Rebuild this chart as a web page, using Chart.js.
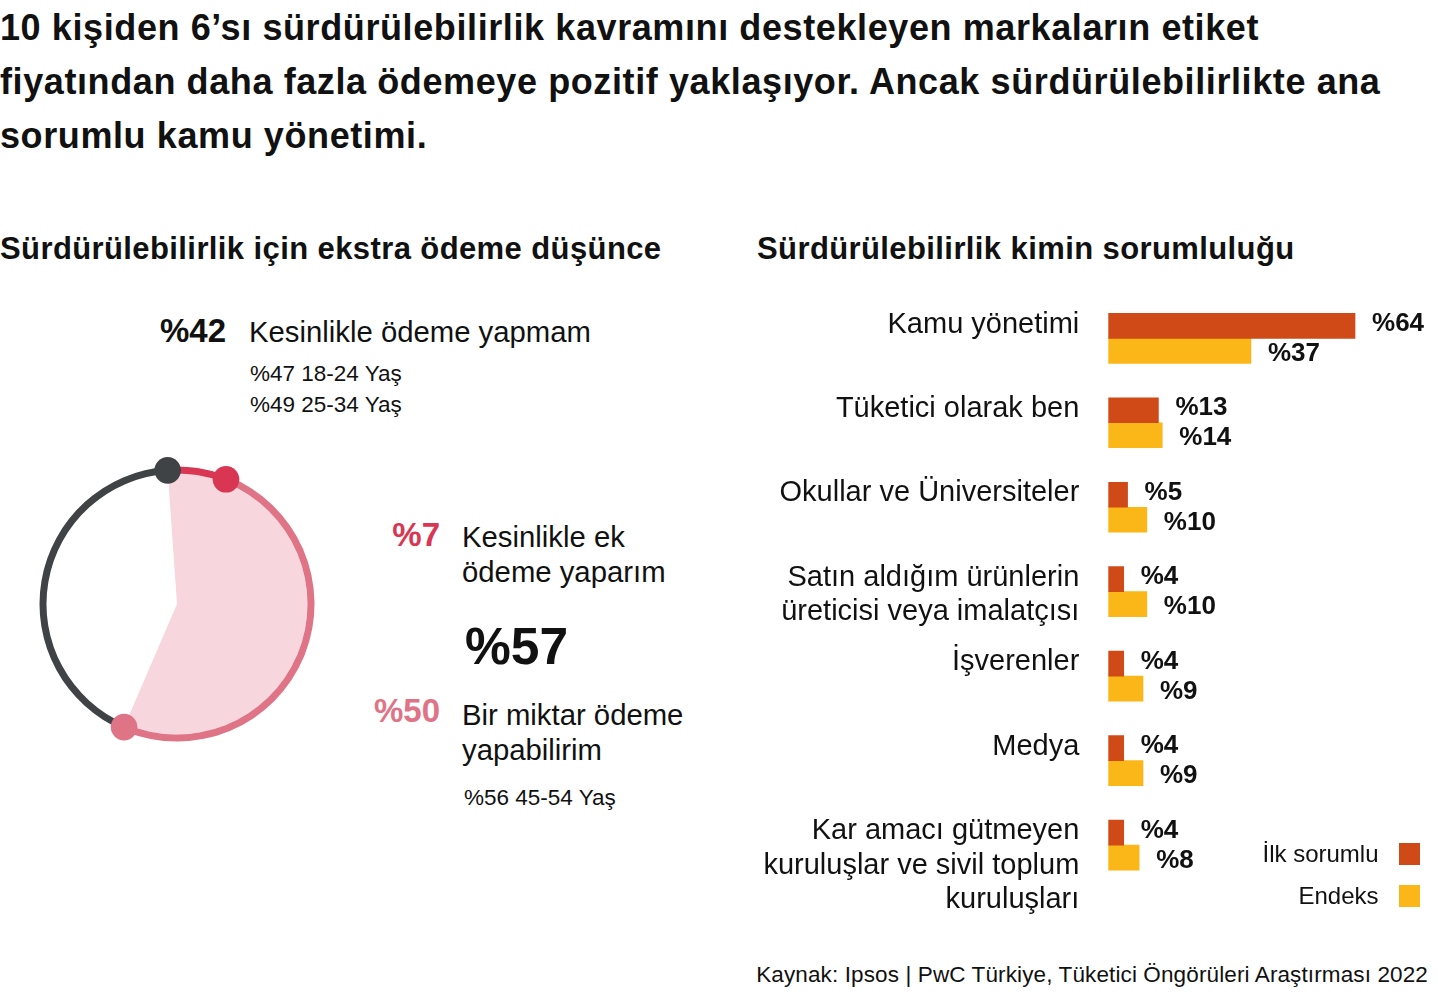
<!DOCTYPE html>
<html lang="tr">
<head>
<meta charset="utf-8">
<title>Sürdürülebilirlik</title>
<script src="https://cdn.jsdelivr.net/npm/chart.js"></script>
<style>
  html, body { margin: 0; padding: 0; background: #fff; }
  body { position: relative; width: 1438px; height: 999px; overflow: hidden;
         font-family: "Liberation Sans", Arial, sans-serif; color: #111; }
  .abs { position: absolute; white-space: nowrap; }
  #title { left: 0; top: 1px; font-size: 36px; font-weight: bold; line-height: 54px; letter-spacing: 0.6px; }
  .sub { font-size: 31px; font-weight: bold; line-height: 40px; top: 229px; letter-spacing: 0.4px; }
  .lbl { font-size: 29.3px; line-height: 35px; }
  .pct { font-size: 33px; font-weight: bold; line-height: 40px; }
  .age { font-size: 22.5px; line-height: 31px; }
  #pie { position: absolute; left: 17px; top: 444px; }
  #bars { position: absolute; left: 740px; top: 280px; }
  #legend { position: absolute; right: 18px; top: 833px; }
  .leg-row { display: flex; align-items: center; justify-content: flex-end; height: 42px; font-size: 24px; }
  .leg-box { width: 21.5px; height: 21.5px; margin-left: 20px; }
  #source { right: 10px; top: 960px; font-size: 22.5px; line-height: 30px; letter-spacing: 0.12px; }
</style>
</head>
<body>
<div id="title" class="abs">10 kişiden 6’sı sürdürülebilirlik kavramını destekleyen markaların etiket<br>fiyatından daha fazla ödemeye pozitif yaklaşıyor. Ancak sürdürülebilirlikte ana<br>sorumlu kamu yönetimi.</div>

<div class="abs sub" style="left:0">Sürdürülebilirlik için ekstra ödeme düşünce</div>
<div class="abs sub" style="left:757px">Sürdürülebilirlik kimin sorumluluğu</div>

<div id="t42" class="abs pct" style="left:160px; top:311px"></div>
<div id="l42" class="abs lbl" style="left:249px; top:314px"></div>
<div id="a42" class="abs age" style="left:250px; top:357.5px"></div>

<div id="t7" class="abs pct" style="right:998px; top:515px; color:#d93654"></div>
<div id="l7" class="abs lbl" style="left:462px; top:518.5px"></div>

<div id="t57" class="abs" style="left:465px; top:616px; font-size:51.5px; font-weight:bold; line-height:60px"></div>

<div id="t50" class="abs pct" style="right:998px; top:691px; color:#e07487"></div>
<div id="l50" class="abs lbl" style="left:462px; top:696.5px"></div>
<div id="a50" class="abs age" style="left:464px; top:781.5px"></div>

<canvas id="pie" width="320" height="320"></canvas>
<canvas id="bars" width="698" height="650"></canvas>
<div id="legend"></div>

<div id="source" class="abs">Kaynak: Ipsos | PwC Türkiye, Tüketici Öngörüleri Araştırması 2022</div>

<script>
// ---------- DATA ----------
// Left: willingness to pay extra (ring order: clockwise from top)
const payLabels = [['Kesinlikle ek', 'ödeme yaparım'], ['Bir miktar ödeme', 'yapabilirim'], ['Kesinlikle ödeme yapmam']];
const payValues = [7, 50, 42];
const payTotalYes = 57;
const payAgeNotes = [[], ['%56 45-54 Yaş'], ['%47 18-24 Yaş', '%49 25-34 Yaş']];

// Right: who is responsible
const categories = [
  ['Kamu yönetimi'],
  ['Tüketici olarak ben'],
  ['Okullar ve Üniversiteler'],
  ['Satın aldığım ürünlerin', 'üreticisi veya imalatçısı'],
  ['İşverenler'],
  ['Medya'],
  ['Kar amacı gütmeyen', 'kuruluşlar ve sivil toplum', 'kuruluşları']
];
const seriesNames = ['İlk sorumlu', 'Endeks'];
const firstResponsible = [64, 13, 5, 4, 4, 4, 4];
const indexValues = [37, 14, 10, 10, 9, 9, 8];

// ---------- STYLE ----------
const FONT = '"Liberation Sans", Arial, sans-serif';
const ringColors = ['#d93654', '#e07487', '#404345'];
const fillColor = '#f7d6dd';
const barColors = ['#d04a17', '#fbb617'];

// ---------- LEFT TEXTS ----------
const pct = v => '%' + v;
document.getElementById('t7').textContent = pct(payValues[0]);
document.getElementById('l7').innerHTML = payLabels[0].join('<br>');
document.getElementById('t50').textContent = pct(payValues[1]);
document.getElementById('l50').innerHTML = payLabels[1].join('<br>');
document.getElementById('a50').innerHTML = payAgeNotes[1].join('<br>');
document.getElementById('t42').textContent = pct(payValues[2]);
document.getElementById('l42').innerHTML = payLabels[2].join('<br>');
document.getElementById('a42').innerHTML = payAgeNotes[2].join('<br>');
document.getElementById('t57').textContent = pct(payTotalYes);

// ---------- RING CHART ----------
const ringDots = {
  id: 'ringDots',
  afterDatasetsDraw(chart) {
    const ctx = chart.ctx;
    const meta = chart.getDatasetMeta(0);
    ctx.save();
    meta.data.forEach((arc, i) => {
      const p = arc.getProps(['x', 'y', 'endAngle', 'innerRadius', 'outerRadius'], true);
      const r = (p.innerRadius + p.outerRadius) / 2;
      ctx.beginPath();
      ctx.arc(p.x + r * Math.cos(p.endAngle), p.y + r * Math.sin(p.endAngle), 13.3, 0, Math.PI * 2);
      ctx.fillStyle = ringColors[i];
      ctx.fill();
    });
    ctx.restore();
  }
};

const yesSum = payValues[0] + payValues[1];
new Chart(document.getElementById('pie'), {
  type: 'doughnut',
  data: {
    labels: payLabels.map(l => l.join(' ')),
    datasets: [
      { data: payValues, backgroundColor: ringColors, borderWidth: 0, hoverBorderWidth: 0, weight: 7, hoverOffset: 0 },
      { data: [yesSum, payValues[2]], backgroundColor: [fillColor, 'rgba(0,0,0,0)'], borderWidth: 0, hoverBorderWidth: 0, weight: 130.5, hoverOffset: 0 }
    ]
  },
  options: {
    responsive: false, animation: false, events: [],
    cutout: 0, rotation: -4,
    layout: { padding: 22.5 },
    plugins: { legend: { display: false }, tooltip: { enabled: false } }
  },
  plugins: [ringDots]
});

// ---------- BAR CHART ----------
const valueLabels = {
  id: 'valueLabels',
  afterDatasetsDraw(chart) {
    const ctx = chart.ctx;
    ctx.save();
    ctx.font = 'bold 26px ' + FONT;
    ctx.fillStyle = '#111';
    ctx.textBaseline = 'middle';
    ctx.textAlign = 'left';
    chart.data.datasets.forEach((ds, di) => {
      chart.getDatasetMeta(di).data.forEach((bar, i) => {
        ctx.fillText(pct(ds.data[i]), bar.x + 17, bar.y + (di === 0 ? -2 : 3));
      });
    });
    ctx.restore();
  }
};

function padLines(lines) {
  if (lines.length === 1) return [lines[0], ''];
  if (lines.length === 3) return [''].concat(lines);
  return lines;
}

const barChart = new Chart(document.getElementById('bars'), {
  type: 'bar',
  data: {
    labels: categories,
    datasets: [
      { label: seriesNames[0], data: firstResponsible, backgroundColor: barColors[0], barThickness: 25, borderWidth: 0 },
      { label: seriesNames[1], data: indexValues, backgroundColor: barColors[1], barThickness: 25, borderWidth: 0 }
    ]
  },
  options: {
    indexAxis: 'y', responsive: false, animation: false, events: [],
    layout: { padding: { top: 16.1, bottom: 42.7, right: 21.3, left: 0 } },
    plugins: { legend: { display: false }, tooltip: { enabled: false } },
    scales: {
      x: { display: false, min: 0, max: 80 },
      y: {
        afterFit(s) { s.width = 368.3; s.paddingTop = 0; s.paddingBottom = 0; },
        grid: { display: false, drawTicks: false },
        border: { display: false },
        ticks: {
          autoSkip: false, padding: 29, color: '#111', labelOffset: 3.5,
          font: { family: FONT, size: 29, lineHeight: 1.19 },
          callback: (v, i) => padLines(categories[i])
        }
      }
    }
  },
  plugins: [valueLabels]
});

// HTML legend from the chart's datasets (text left of the swatch)
const legendEl = document.getElementById('legend');
barChart.data.datasets.forEach(ds => {
  const row = document.createElement('div');
  row.className = 'leg-row';
  const t = document.createElement('span');
  t.textContent = ds.label;
  const b = document.createElement('span');
  b.className = 'leg-box';
  b.style.background = ds.backgroundColor;
  row.appendChild(t); row.appendChild(b);
  legendEl.appendChild(row);
});
</script>
</body>
</html>
